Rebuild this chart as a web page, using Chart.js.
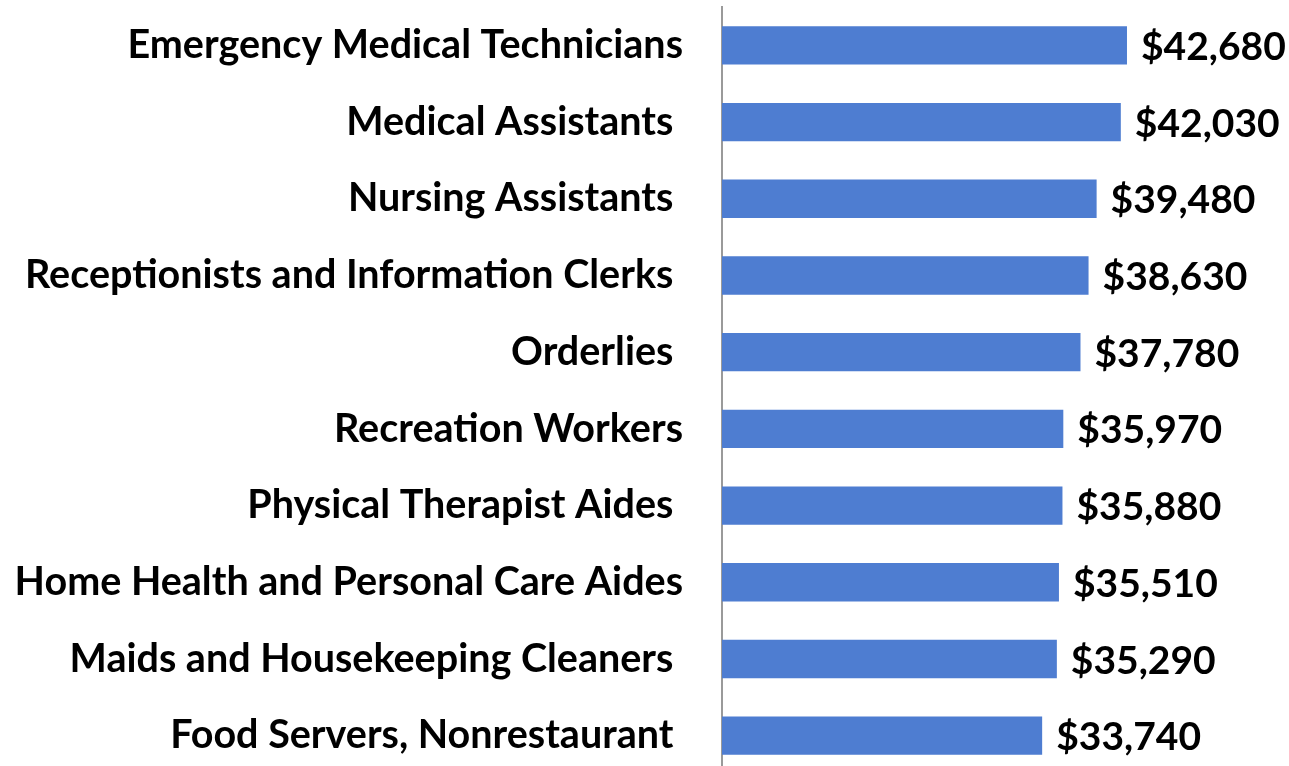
<!DOCTYPE html>
<html>
<head>
<meta charset="utf-8">
<script src="https://cdn.jsdelivr.net/npm/chart.js@4"></script>
<style>
    html, body { margin: 0; padding: 0; background: #fff; overflow: hidden; }
    #wrap { width: 1289px; height: 766px; overflow: hidden; }
</style>
</head>
<body>
<div id="wrap"><canvas id="chart" width="1289" height="774"></canvas></div>
<script>
// Data
const arrJobs = [
    'Emergency Medical Technicians',
    'Medical Assistants ',
    'Nursing Assistants ',
    'Receptionists and Information Clerks ',
    'Orderlies ',
    'Recreation Workers',
    'Physical Therapist Aides ',
    'Home Health and Personal Care Aides',
    'Maids and Housekeeping Cleaners ',
    'Food Servers, Nonrestaurant '
];
const arrWages = [42680, 42030, 39480, 38630, 37780, 35970, 35880, 35510, 35290, 33740];

const strFont = 'Lato, "Open Sans", sans-serif';

/** Draws the "$xx,xxx" label just past the end of each bar */
const valueLabels = {
    id: 'valueLabels',
    afterDatasetsDraw(chart) {
        const ctx = chart.ctx;
        const meta = chart.getDatasetMeta(0);
        ctx.save();
        ctx.font = `bold 39px ${strFont}`;
        ctx.fillStyle = '#000';
        ctx.textAlign = 'left';
        ctx.textBaseline = 'middle';
        meta.data.forEach((bar, i) => {
            ctx.fillText('$' + arrWages[i].toLocaleString('en-US'), bar.x + 14, bar.y + 2);
        });
        ctx.restore();
    }
};

new Chart(document.getElementById('chart').getContext('2d'), {
    type: 'bar',
    data: {
        labels: arrJobs,
        datasets: [{
            data: arrWages,
            backgroundColor: '#4e7dd1',
            borderWidth: 0,
            barPercentage: 0.5,
            categoryPercentage: 1
        }]
    },
    options: {
        indexAxis: 'y',
        responsive: false,
        animation: false,
        layout: { padding: { left: 0, right: 140, top: 7, bottom: 0 } },
        plugins: {
            legend: { display: false },
            tooltip: { enabled: false }
        },
        scales: {
            x: {
                display: false,
                min: 0,
                max: 45000
            },
            y: {
                // fixed axis width, and no extra label padding above/below the bars
                afterFit: (scale) => {
                    scale.width = 722;
                    scale.paddingTop = 0;
                    scale.paddingBottom = 0;
                },
                grid: { display: false, drawTicks: false },
                border: { display: true, color: '#9a9a9a', width: 2 },
                ticks: {
                    padding: 39,
                    color: '#000',
                    font: { family: strFont, size: 39.5, weight: 'bold' }
                }
            }
        }
    },
    plugins: [valueLabels]
});
</script>
</body>
</html>
